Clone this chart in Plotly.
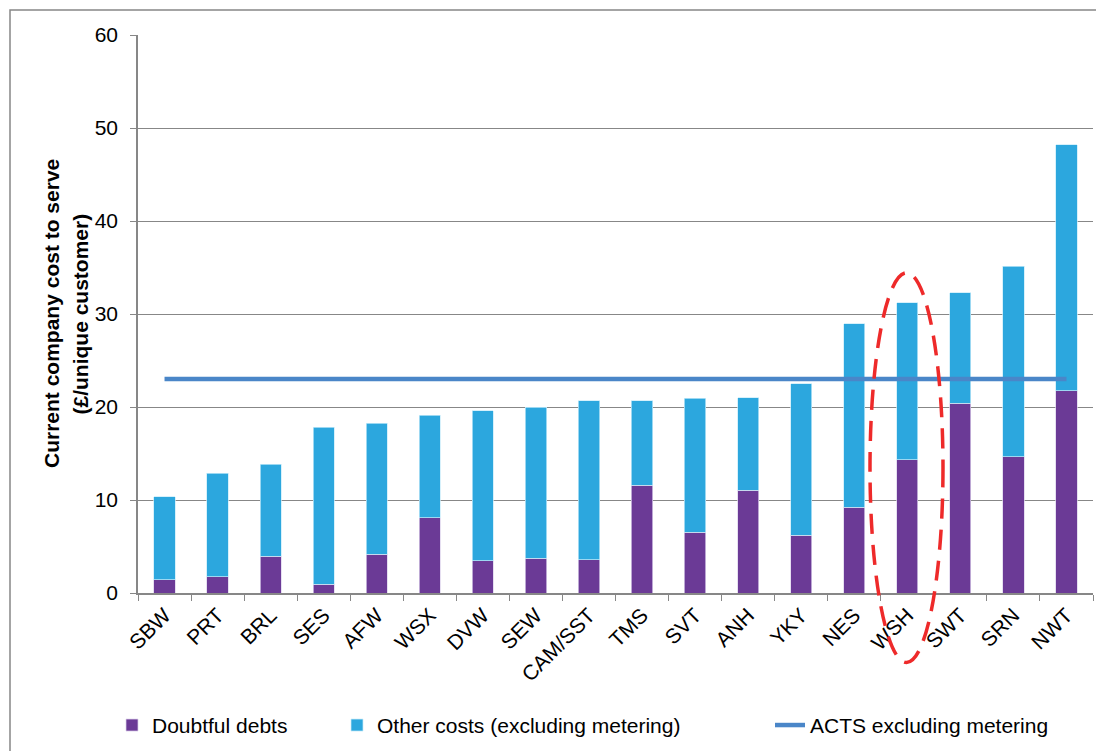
import plotly.graph_objects as go

# ---- data ----
companies = ["SBW", "PRT", "BRL", "SES", "AFW", "WSX", "DVW", "SEW", "CAM/SST",
             "TMS", "SVT", "ANH", "YKY", "NES", "WSH", "SWT", "SRN", "NWT"]
totals = [10.35, 12.9, 13.85, 17.8, 18.25, 19.1, 19.6, 19.95, 20.65,
          20.65, 20.95, 21.0, 22.5, 28.95, 31.2, 32.3, 35.15, 48.2]
doubtful_debts = [1.45, 1.75, 3.95, 0.95, 4.15, 8.1, 3.45, 3.75, 3.55,
                  11.6, 6.55, 11.05, 6.2, 9.2, 14.35, 20.4, 14.65, 21.75]
other_costs = [round(t - d, 2) for t, d in zip(totals, doubtful_debts)]
acts_excl_metering = [23.0, 23.0, 23.0, 23.0, 23.0, 23.0, 23.0, 23.0, 23.0,
                      23.0, 23.0, 23.0, 23.0, 23.0, 23.0, 23.0, 23.0, 23.0]
y_ticks = [0, 10, 20, 30, 40, 50, 60]
y_title_lines = ["Current company cost to serve", "(£/unique customer)"]

# ---- layout geometry (page pixels; the figure div sits 8px in from page edge) ----
OFF = 8
W, H = 1104 - OFF, 751 - OFF
PL, PR, PT, PB = 138, 1093, 35, 593.5          # plot area in page pixels
ML, MR, MT, MB = PL - OFF, W - (PR - OFF), PT - OFF, H - (PB - OFF)
PW, PH = PR - PL, PB - PT


def px_x(x):
    return (x - PL) / PW


def px_y(y):
    return (PB - y) / PH


PURPLE = "#6B3A96"
CYAN = "#2CA7DE"
LINEBLUE = "#4A86C8"
GRID = "#878787"
FONT = "Liberation Sans, Arial, sans-serif"

fig = go.Figure()
fig.add_trace(go.Bar(x=companies, y=doubtful_debts, name="Doubtful debts",
                     marker=dict(color=PURPLE, line=dict(color="rgba(220,210,235,0.9)", width=0.8)),
                     legend="legend", showlegend=True))
fig.add_trace(go.Bar(x=companies, y=other_costs, name="Other costs (excluding metering)",
                     marker=dict(color=CYAN, line=dict(color="rgba(200,235,250,0.9)", width=0.8)),
                     legend="legend2", showlegend=True))
fig.add_trace(go.Scatter(x=companies, y=acts_excl_metering, name="ACTS excluding metering",
                         mode="lines", line=dict(color=LINEBLUE, width=4.5),
                         legend="legend3", showlegend=True))

legend_common = dict(orientation="h", yanchor="middle", xanchor="left",
                     y=px_y(726), font=dict(family=FONT, size=21, color="black"),
                     bgcolor="rgba(0,0,0,0)", borderwidth=0)

title_annotations = [
    dict(text="<b>%s</b>" % y_title_lines[0], xref="paper", yref="paper",
         x=px_x(51), y=0.5, xanchor="center", yanchor="middle", textangle=-90,
         showarrow=False, font=dict(family=FONT, size=21, color="black")),
    dict(text="<b>%s</b>" % y_title_lines[1], xref="paper", yref="paper",
         x=px_x(79.5), y=0.5, xanchor="center", yanchor="middle", textangle=-90,
         showarrow=False, font=dict(family=FONT, size=21, color="black")),
]

fig.update_layout(
    width=W, height=H,
    margin=dict(l=ML, r=MR, t=MT, b=MB, autoexpand=False),
    barmode="stack", bargap=0.6,
    paper_bgcolor="white", plot_bgcolor="white",
    font=dict(family=FONT, size=21, color="black"),
    showlegend=True,
    legend=dict(x=px_x(153 - 41), **legend_common),
    legend2=dict(x=px_x(378 - 41), **legend_common),
    legend3=dict(x=px_x(810 - 40), **legend_common),
    annotations=title_annotations,
    shapes=[
        # outer chart border
        dict(type="rect", xref="paper", yref="paper",
             x0=px_x(10), x1=px_x(1130), y0=px_y(780), y1=px_y(10),
             line=dict(color=GRID, width=1.5), fillcolor="rgba(0,0,0,0)", layer="below"),
        # red dashed highlight ellipse around WSH
        dict(type="circle", xref="paper", yref="paper",
             x0=px_x(870), x1=px_x(943), y0=px_y(663), y1=px_y(273),
             line=dict(color="#EE2A2A", width=3.5, dash="20px,11px"), layer="above"),
    ],
)

fig.update_xaxes(
    type="category", tickangle=-45, ticks="outside", tickson="boundaries",
    ticklen=6, tickcolor=GRID, showline=True, linecolor=GRID, linewidth=1.5,
    showgrid=False, tickfont=dict(family=FONT, size=21, color="black"),
    automargin=False, mirror=False,
)
fig.update_yaxes(
    range=[0, 60], tickvals=y_ticks, ticks="outside", ticklen=6, tickcolor=GRID,
    showline=True, linecolor=GRID, linewidth=1.5,
    showgrid=True, gridcolor=GRID, gridwidth=1.3, zeroline=False,
    tickfont=dict(family=FONT, size=21, color="black"), ticklabelstandoff=8,
    automargin=False,
)

fig.write_html("out.html")
